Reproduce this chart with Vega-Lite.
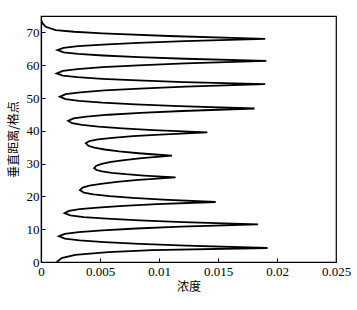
{
"$schema":"https://vega.github.io/schema/vega-lite/v6.json",
"width":295,"height":246,
"autosize":{"type":"none"},
"padding":{"left":41,"top":16,"right":21,"bottom":48},
"background":"white",
"config":{"view":{"stroke":"black","strokeWidth":1.2},
"axis":{"grid":false,"domainColor":"black","domainWidth":1.2,"tickColor":"black","tickSize":-4,"labelFont":"Liberation Serif","labelFontSize":13,"labelColor":"black","labelFlush":false,"labelOverlap":false,"titleFont":"Noto Sans CJK SC","titleFontSize":12,"titleFontWeight":"normal","titleColor":"black"}},
"data":{"values":[
{"distance":0,"concentration":0.00133},{"distance":1.2,"concentration":0.00175},{"distance":2.2,"concentration":0.0029},{"distance":3.0,"concentration":0.0057},{"distance":3.6,"concentration":0.0094},{"distance":4.27,"concentration":0.0192},
{"distance":4.98,"concentration":0.01234},{"distance":5.52,"concentration":0.00838},{"distance":6.06,"concentration":0.00537},{"distance":6.59,"concentration":0.00327},{"distance":7.13,"concentration":0.00203},{"distance":7.84,"concentration":0.00152},
{"distance":8.57,"concentration":0.00201},{"distance":9.12,"concentration":0.00319},{"distance":9.67,"concentration":0.0052},{"distance":10.22,"concentration":0.00807},{"distance":10.77,"concentration":0.01185},{"distance":11.5,"concentration":0.0184},
{"distance":12.18,"concentration":0.01204},{"distance":12.69,"concentration":0.00836},{"distance":13.2,"concentration":0.00558},{"distance":13.71,"concentration":0.00362},{"distance":14.22,"concentration":0.00248},{"distance":14.9,"concentration":0.002},
{"distance":15.58,"concentration":0.00237},{"distance":16.09,"concentration":0.00327},{"distance":16.6,"concentration":0.00479},{"distance":17.11,"concentration":0.00697},{"distance":17.62,"concentration":0.00983},{"distance":18.3,"concentration":0.0148},
{"distance":19.02,"concentration":0.01034},{"distance":19.56,"concentration":0.00776},{"distance":20.1,"concentration":0.00581},{"distance":20.64,"concentration":0.00444},{"distance":21.18,"concentration":0.00363},{"distance":21.9,"concentration":0.0033},
{"distance":22.68,"concentration":0.00353},{"distance":23.27,"concentration":0.0041},{"distance":23.85,"concentration":0.00507},{"distance":24.44,"concentration":0.00644},{"distance":25.02,"concentration":0.00826},{"distance":25.8,"concentration":0.0114},
{"distance":26.36,"concentration":0.00872},{"distance":26.78,"concentration":0.00718},{"distance":27.2,"concentration":0.006},{"distance":27.62,"concentration":0.00518},{"distance":28.04,"concentration":0.0047},{"distance":28.6,"concentration":0.0045},
{"distance":29.36,"concentration":0.00469},{"distance":29.93,"concentration":0.00515},{"distance":30.5,"concentration":0.00594},{"distance":31.07,"concentration":0.00706},{"distance":31.64,"concentration":0.00854},{"distance":32.4,"concentration":0.0111},
{"distance":33.16,"concentration":0.00827},{"distance":33.73,"concentration":0.00663},{"distance":34.3,"concentration":0.00539},{"distance":34.87,"concentration":0.00452},{"distance":35.44,"concentration":0.00401},{"distance":36.2,"concentration":0.0038},
{"distance":36.86,"concentration":0.0041},{"distance":37.36,"concentration":0.00482},{"distance":37.85,"concentration":0.00605},{"distance":38.35,"concentration":0.0078},{"distance":38.84,"concentration":0.0101},{"distance":39.5,"concentration":0.0141},
{"distance":40.2,"concentration":0.00952},{"distance":40.73,"concentration":0.00688},{"distance":41.25,"concentration":0.00487},{"distance":41.78,"concentration":0.00347},{"distance":42.3,"concentration":0.00264},{"distance":43.0,"concentration":0.0023},
{"distance":43.76,"concentration":0.00276},{"distance":44.33,"concentration":0.00386},{"distance":44.9,"concentration":0.00574},{"distance":45.47,"concentration":0.00843},{"distance":46.04,"concentration":0.01197},{"distance":46.8,"concentration":0.0181},
{"distance":47.52,"concentration":0.0117},{"distance":48.06,"concentration":0.008},{"distance":48.6,"concentration":0.0052},{"distance":49.14,"concentration":0.00323},{"distance":49.68,"concentration":0.00208},{"distance":50.4,"concentration":0.0016},
{"distance":51.16,"concentration":0.0021},{"distance":51.73,"concentration":0.00332},{"distance":52.3,"concentration":0.00539},{"distance":52.87,"concentration":0.00835},{"distance":53.44,"concentration":0.01225},{"distance":54.2,"concentration":0.019},
{"distance":54.86,"concentration":0.01214},{"distance":55.36,"concentration":0.00819},{"distance":55.85,"concentration":0.00518},{"distance":56.35,"concentration":0.00308},{"distance":56.84,"concentration":0.00184},{"distance":57.5,"concentration":0.00133},
{"distance":58.26,"concentration":0.00185},{"distance":58.83,"concentration":0.00309},{"distance":59.4,"concentration":0.0052},{"distance":59.97,"concentration":0.00823},{"distance":60.54,"concentration":0.01221},{"distance":61.3,"concentration":0.0191},
{"distance":61.96,"concentration":0.01223},{"distance":62.46,"concentration":0.00827},{"distance":62.95,"concentration":0.00526},{"distance":63.45,"concentration":0.00315},{"distance":63.94,"concentration":0.00191},{"distance":64.6,"concentration":0.0014},
{"distance":65.28,"concentration":0.00191},{"distance":65.79,"concentration":0.00314},{"distance":66.3,"concentration":0.00524},{"distance":66.81,"concentration":0.00823},{"distance":67.32,"concentration":0.01217},{"distance":68.0,"concentration":0.019},
{"distance":68.9,"concentration":0.0108},{"distance":69.7,"concentration":0.0052},{"distance":70.2,"concentration":0.0028},{"distance":70.7,"concentration":0.00124},{"distance":71.7,"concentration":0.0004},{"distance":72.8,"concentration":0.00012},{"distance":73.8,"concentration":0}
]},
"mark":{"type":"line","color":"black","strokeWidth":1.8,"clip":true},
"encoding":{
"x":{"field":"concentration","type":"quantitative","scale":{"domain":[0,0.025],"nice":false},"axis":{"values":[0,0.005,0.01,0.015,0.02,0.025],"format":"~g","title":"浓度","labelPadding":7,"titlePadding":3}},
"y":{"field":"distance","type":"quantitative","scale":{"domain":[0,75],"nice":false},"axis":{"values":[0,10,20,30,40,50,60,70],"title":"垂直距离/格点","labelPadding":6,"titlePadding":6}},
"order":{"field":"distance","type":"quantitative"}
}
}
